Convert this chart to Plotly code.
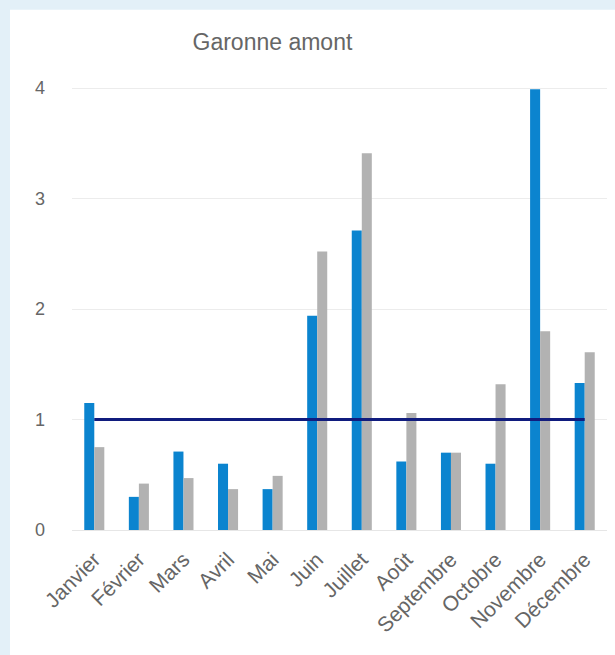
import plotly.graph_objects as go

months = ["Janvier", "Février", "Mars", "Avril", "Mai", "Juin", "Juillet",
          "Août", "Septembre", "Octobre", "Novembre", "Décembre"]
serie_bleue = [1.15, 0.30, 0.71, 0.60, 0.37, 1.94, 2.71, 0.62, 0.70, 0.60, 3.99, 1.33]
serie_grise = [0.75, 0.42, 0.47, 0.37, 0.49, 2.52, 3.41, 1.06, 0.70, 1.32, 1.80, 1.61]
reference = [1, 1, 1, 1, 1, 1, 1, 1, 1, 1, 1, 1]
y_ticks = [0, 1, 2, 3, 4]
title_text = "Garonne amont"

FONT = "Liberation Sans, Arial, sans-serif"
TXT = "#666666"

fig = go.Figure()
fig.add_trace(go.Bar(x=months, y=serie_bleue, marker=dict(color="#0b84cf", line=dict(width=0)),
                     showlegend=False))
fig.add_trace(go.Bar(x=months, y=serie_grise, marker=dict(color="#b2b2b2", line=dict(width=0)),
                     showlegend=False))
fig.add_trace(go.Scatter(x=months, y=reference, mode="lines",
                         line=dict(color="#101c7e", width=3), showlegend=False))

fig.update_layout(
    width=615, height=655,
    margin=dict(l=72, r=8, t=66, b=125),
    paper_bgcolor="white", plot_bgcolor="white",
    barmode="group", bargap=0.55, bargroupgap=0,
    title=dict(text=title_text, x=0.443, xanchor="center", y=1 - 42 / 655, yanchor="middle",
               yref="container", font=dict(family=FONT, size=23, color=TXT)),
    font=dict(family=FONT, color=TXT),
    xaxis=dict(tickangle=-45, tickfont=dict(size=21, color=TXT), showgrid=False,
               showline=True, linecolor="#e6e6e6", linewidth=1, ticks="", automargin=False,
               ticklabelstandoff=8),
    yaxis=dict(range=[0, 4.2], tickvals=y_ticks, tickfont=dict(size=18, color=TXT),
               showgrid=True, gridcolor="#ececec", gridwidth=1, zeroline=False,
               ticklabelstandoff=26, automargin=False),
    shapes=[
        dict(type="rect", xref="paper", yref="paper", x0=-0.2, x1=1.1, y0=1.121, y1=1.2,
             fillcolor="#e3f0f8", line=dict(width=0), layer="below"),
        dict(type="rect", xref="paper", yref="paper", x0=-0.2, x1=-0.1159, y0=-0.3, y1=1.2,
             fillcolor="#e3f0f8", line=dict(width=0), layer="below"),
    ],
)

fig.write_html("out.html", config={"displayModeBar": False},
               post_script="document.body.style.margin='0';document.body.style.padding='0';")
